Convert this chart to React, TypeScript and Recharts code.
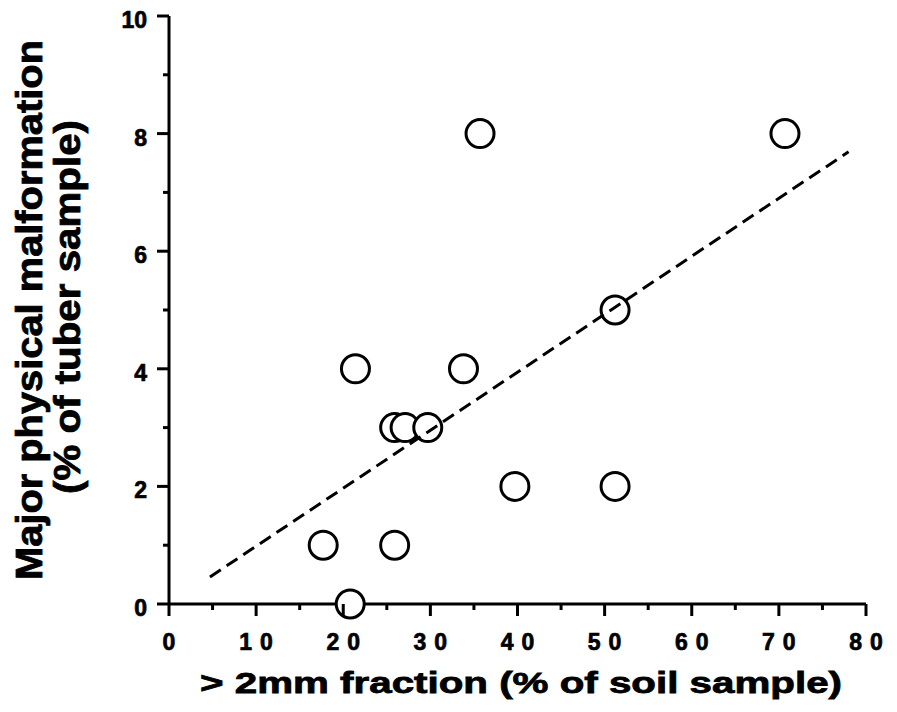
import React from "react";
import { ScatterChart, Scatter, XAxis, YAxis, Label } from "recharts";

const xValues = [70.7, 35.7, 51.2, 21.4, 33.8, 25.9, 27.1, 29.7, 39.7, 51.2, 17.7, 25.9, 20.8];
const yValues = [8, 8, 5, 4, 4, 3, 3, 3, 2, 2, 1, 1, 0];
const trendX = [4.7, 78];
const trendY = [0.46, 7.69];
const xTicks = [0, 5, 10, 15, 20, 25, 30, 35, 40, 45, 50, 55, 60, 65, 70, 75, 80];
const yTicks = [0, 1, 2, 3, 4, 5, 6, 7, 8, 9, 10];
const xTitle = "> 2mm fraction (% of soil sample)";
const yTitle1 = "Major physical malformation";
const yTitle2 = "(% of tuber sample)";

const points = xValues.map((x, i) => ({ x, y: yValues[i] }));
const trend = trendX.map((x, i) => ({ x, y: trendY[i] }));

const FONT = "'Liberation Sans', Arial, Helvetica, sans-serif";

const XTick = (props: any) => {
  const { x, y, payload } = props;
  const v = payload.value;
  const major = v % 10 === 0;
  return (
    <g>
      <line x1={x} x2={x} y1={y} y2={y + (major ? 12 : 6)} stroke="#000" strokeWidth={3} />
      {major && (
        <text
          x={x}
          y={y + 46}
          dx={4}
          textAnchor="middle"
          fontFamily={FONT}
          fontWeight="bold"
          fontSize={23}
          letterSpacing={8}
          fill="#000"
          stroke="#000"
          strokeWidth={0.7}
        >
          {String(v)}
        </text>
      )}
    </g>
  );
};

const YTick = (props: any) => {
  const { x, y, payload } = props;
  const v = payload.value;
  const major = v % 2 === 0;
  return (
    <g>
      <line x1={x} x2={x - (major ? 12 : 6)} y1={y} y2={y} stroke="#000" strokeWidth={3} />
      {major && (
        <text
          x={x - 22}
          y={y + 12}
          textAnchor="end"
          fontFamily={FONT}
          fontWeight="bold"
          fontSize={23}
          fill="#000"
          stroke="#000"
          strokeWidth={0.7}
        >
          {String(v)}
        </text>
      )}
    </g>
  );
};

const Circle = (props: any) => {
  const { cx, cy } = props;
  return <circle cx={cx} cy={cy} r={14} fill="#fff" stroke="#000" strokeWidth={3} />;
};

const Empty = () => <g />;

const XTitle = () => (
  <text
    x={200}
    y={693}
    textLength={642}
    lengthAdjust="spacingAndGlyphs"
    fontFamily={FONT}
    fontWeight="bold"
    fontSize={30}
    fill="#000"
    stroke="#000"
    strokeWidth={0.8}
  >
    {xTitle}
  </text>
);

const YTitle = () => (
  <g>
    <text
      x={42}
      y={310}
      transform="rotate(-90, 42, 310)"
      textAnchor="middle"
      textLength={540}
      lengthAdjust="spacingAndGlyphs"
      fontFamily={FONT}
      fontWeight="bold"
      fontSize={37}
      fill="#000"
      stroke="#000"
      strokeWidth={0.8}
    >
      {yTitle1}
    </text>
    <text
      x={80}
      y={307}
      transform="rotate(-90, 80, 307)"
      textAnchor="middle"
      textLength={374}
      lengthAdjust="spacingAndGlyphs"
      fontFamily={FONT}
      fontWeight="bold"
      fontSize={37}
      fill="#000"
      stroke="#000"
      strokeWidth={0.8}
    >
      {yTitle2}
    </text>
  </g>
);

export default function App() {
  return (
    <div style={{ position: "absolute", left: 0, top: 0, width: 897, height: 712, background: "#fff" }}>
      <ScatterChart
        width={897}
        height={712}
        margin={{ top: 16, right: 31, bottom: 68, left: 109 }}
      >
        <XAxis
          type="number"
          dataKey="x"
          domain={[0, 80]}
          ticks={xTicks}
          interval={0}
          tickSize={0}
          tickMargin={0}
          tickLine={false}
          height={40}
          axisLine={{ stroke: "#000", strokeWidth: 3 }}
          tick={<XTick />}
        >
          <Label content={<XTitle />} />
        </XAxis>
        <YAxis
          type="number"
          dataKey="y"
          domain={[0, 10]}
          ticks={yTicks}
          interval={0}
          tickSize={0}
          tickMargin={0}
          tickLine={false}
          width={60}
          axisLine={{ stroke: "#000", strokeWidth: 3 }}
          tick={<YTick />}
        >
          <Label content={<YTitle />} />
        </YAxis>
        <Scatter data={points} shape={<Circle />} isAnimationActive={false} />
        <Scatter
          data={trend}
          shape={<Empty />}
          line={{ stroke: "#000", strokeWidth: 3, strokeDasharray: "13 7" }}
          isAnimationActive={false}
          zIndex={700}
        />
      </ScatterChart>
    </div>
  );
}
